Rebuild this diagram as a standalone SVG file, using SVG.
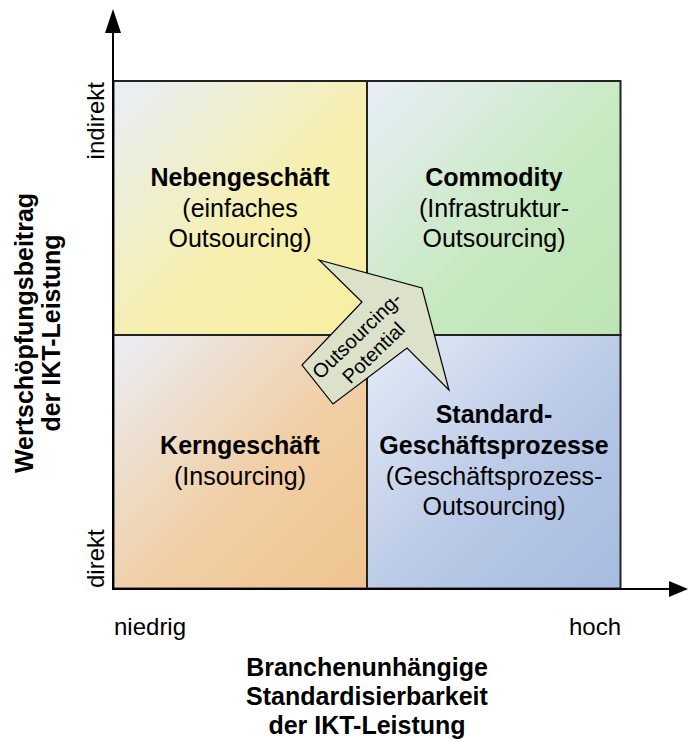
<svg xmlns="http://www.w3.org/2000/svg" width="688" height="742" viewBox="0 0 688 742">
<style>
  text { font-family: "Liberation Sans", Arial, sans-serif; fill: #000; }
  .t { font-size: 25px; text-anchor: middle; }
  .b { font-weight: bold; }
  .ax { font-size: 24px; }
  .q { stroke: #222; stroke-width: 2; }
  .axis { stroke: #000; stroke-width: 2; fill: none; }
</style>
<defs>
  <linearGradient id="gY" x1="0" y1="0" x2="1" y2="1">
    <stop offset="0" stop-color="#e8eef7"/>
    <stop offset="0.55" stop-color="#f6efb0"/>
    <stop offset="1" stop-color="#f7ef9f"/>
  </linearGradient>
  <linearGradient id="gG" x1="0" y1="0" x2="1" y2="1">
    <stop offset="0" stop-color="#e8eef7"/>
    <stop offset="0.55" stop-color="#c8e9c2"/>
    <stop offset="1" stop-color="#bce5b4"/>
  </linearGradient>
  <linearGradient id="gO" x1="0" y1="0" x2="1" y2="1">
    <stop offset="0" stop-color="#eaeef6"/>
    <stop offset="0.55" stop-color="#f1cfa6"/>
    <stop offset="1" stop-color="#efc38f"/>
  </linearGradient>
  <linearGradient id="gB" x1="0" y1="0" x2="1" y2="1">
    <stop offset="0" stop-color="#e6ecf7"/>
    <stop offset="0.55" stop-color="#b9c9e6"/>
    <stop offset="1" stop-color="#a6bbe0"/>
  </linearGradient>
</defs>

<g id="q-nebengeschaeft">
  <rect class="q" x="113.5" y="81" width="253.5" height="254" fill="url(#gY)"/>
  <text class="t b" x="240" y="186">Nebengeschäft</text>
  <text class="t" x="240" y="217">(einfaches</text>
  <text class="t" x="240" y="247">Outsourcing)</text>
</g>
<g id="q-commodity">
  <rect class="q" x="367" y="81" width="253.5" height="254" fill="url(#gG)"/>
  <text class="t b" x="494" y="186">Commodity</text>
  <text class="t" x="494" y="217">(Infrastruktur-</text>
  <text class="t" x="494" y="247">Outsourcing)</text>
</g>
<g id="q-kerngeschaeft">
  <rect class="q" x="113.5" y="335" width="253.5" height="253.5" fill="url(#gO)"/>
  <text class="t b" x="240" y="454">Kerngeschäft</text>
  <text class="t" x="240" y="485">(Insourcing)</text>
</g>
<g id="q-standard">
  <rect class="q" x="367" y="335" width="253.5" height="253.5" fill="url(#gB)"/>
  <text class="t b" x="494" y="423">Standard-</text>
  <text class="t b" x="494" y="454">Geschäftsprozesse</text>
  <text class="t" x="494" y="485">(Geschäftsprozess-</text>
  <text class="t" x="494" y="515">Outsourcing)</text>
</g>

<g id="outsourcing-arrow">
  <polygon points="319,260 422,288 449,390 407,348 333,404 302,365 362,302" fill="#dce1c9" stroke="#000" stroke-width="1.2"/>
  <g transform="translate(365,344) rotate(-44)">
    <text font-size="20" text-anchor="middle" x="0" y="-5">Outsourcing-</text>
    <text font-size="20" text-anchor="middle" x="0" y="19">Potential</text>
  </g>
</g>

<g id="connectors">
  <line class="axis" x1="113" y1="589" x2="113" y2="30"/>
  <polygon points="113,9 105,33 121,33" fill="#000"/>
  <line class="axis" x1="112" y1="589" x2="670" y2="589"/>
  <polygon points="688,589 669,581 669,597" fill="#000"/>
</g>

<g id="y-axis-labels">
  <text class="ax" transform="translate(104,82) rotate(-90)" text-anchor="end">indirekt</text>
  <text class="ax" transform="translate(104,588) rotate(-90)" text-anchor="start">direkt</text>
  <text class="t b" transform="translate(33,333) rotate(-90)">Wertschöpfungsbeitrag</text>
  <text class="t b" transform="translate(60,333) rotate(-90)">der IKT-Leistung</text>
</g>

<g id="x-axis-labels">
  <text class="ax" x="114" y="635">niedrig</text>
  <text class="ax" x="621" y="635" text-anchor="end">hoch</text>
  <text class="t b" x="367" y="676">Branchenunhängige</text>
  <text class="t b" x="367" y="705">Standardisierbarkeit</text>
  <text class="t b" x="367" y="734">der IKT-Leistung</text>
</g>
</svg>
